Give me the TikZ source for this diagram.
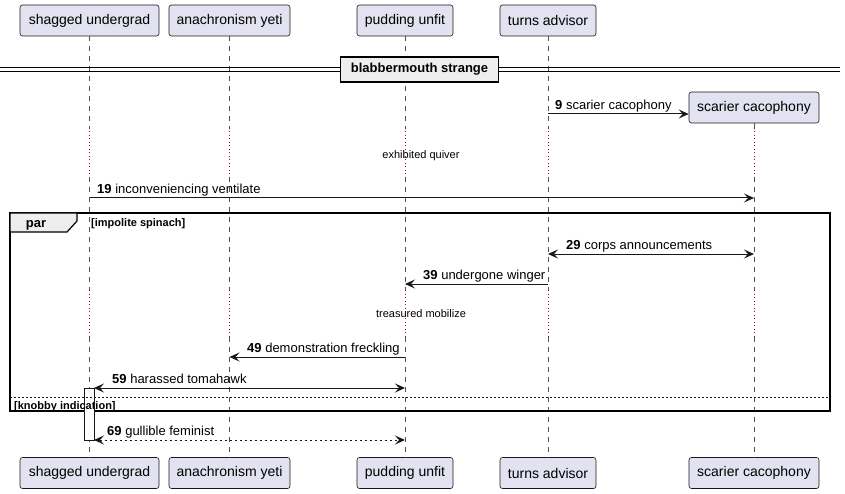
\documentclass[tikz,border=0pt]{standalone}
\usepackage{fontspec}
\setmainfont{Liberation Sans}
\usetikzlibrary{arrows.meta,calc}
\definecolor{pfill}{HTML}{E2E2F0}
\definecolor{pline}{HTML}{181818}
\definecolor{delayc}{HTML}{A80036}
\definecolor{grpfill}{HTML}{EEEEEE}
\begin{document}
\begin{tikzpicture}[x=1pt,y=-1pt,
  part/.style={draw=pline, fill=pfill, rounded corners=2.5pt, line width=0.6pt,
     minimum height=31pt, inner sep=0pt, font=\fontsize{14}{16}\selectfont},
  life/.style={draw=pline!75, line width=0.6pt, dash pattern=on 5pt off 5pt},
  delay/.style={draw=delayc, line width=0.9pt, dash pattern=on 1pt off 2.5pt},
  msg/.style={draw=pline, line width=1pt},
  tip/.tip={Stealth[length=10pt,width=9pt,inset=4pt]},
  lbl/.style={font=\fontsize{13}{15}\selectfont, inner sep=0pt, anchor=base west},
  small/.style={font=\fontsize{11}{13}\selectfont, inner sep=0pt, anchor=base},
  grplbl/.style={font=\fontsize{11}{13}\selectfont\bfseries, inner sep=0pt, anchor=base west}
]
\useasboundingbox (0,0) rectangle (845,494);
% participants
\node[part, minimum width=139pt] (su) at (89.5,20.5) {shagged undergrad};
\node[part, minimum width=121pt] (ay) at (229.5,20.5) {anachronism yeti};
\node[part, minimum width=96pt] (pu) at (405,20.5) {pudding unfit};
\node[part, minimum width=96pt] (ta) at (548,20.5) {turns advisor};
\node[part, minimum width=130pt] (sc) at (754,107.5) {scarier cacophony};
\node[part, minimum width=139pt] (sub) at (89.5,473) {shagged undergrad};
\node[part, minimum width=121pt] (ayb) at (229.5,473) {anachronism yeti};
\node[part, minimum width=96pt] (pub) at (405,473) {pudding unfit};
\node[part, minimum width=96pt] (tab) at (548,473) {turns advisor};
\node[part, minimum width=130pt] (scb) at (754,473) {scarier cacophony};
% row coordinates
\coordinate (d1a) at (0,128);
\coordinate (d1b) at (0,177);
\coordinate (d2a) at (0,290);
\coordinate (d2b) at (0,337);
\coordinate (m9) at (0,114);
\coordinate (m19) at (0,198);
\coordinate (m29) at (0,254);
\coordinate (m39) at (0,284);
\coordinate (m49) at (0,357);
\coordinate (m59) at (0,388);
\coordinate (m69) at (0,440);
% lifelines
\foreach \t/\b in {su/sub,ay/ayb,pu/pub,ta/tab,sc/scb}{
  \draw[life] (\t.south) -- (\t.south |- d1a);
  \draw[delay] (\t.south |- d1a) -- (\t.south |- d1b);
  \draw[life] (\t.south |- d1b) -- (\t.south |- d2a);
  \draw[delay] (\t.south |- d2a) -- (\t.south |- d2b);
  \draw[life] (\t.south |- d2b) -- (\b.north);
}
% divider
\coordinate (dvl1) at (0,68);
\coordinate (dvr1) at (840,68);
\coordinate (dvl2) at (0,71.5);
\coordinate (dvr2) at (840,71.5);
\draw[line width=1pt] (dvl1) -- (dvr1);
\draw[line width=1pt] (dvl2) -- (dvr2);
\node[draw=black, fill=grpfill, line width=1.6pt, minimum width=158pt, minimum height=25pt,
  inner sep=0pt, font=\fontsize{13}{15}\selectfont\bfseries] (div) at (419.5,69.5) {blabbermouth strange};
% message 9
\draw[msg, -tip] (ta.south |- m9) -- (sc.west |- m9);
\node[lbl] (l9) at (555,109.5) {\textbf{9} scarier cacophony};
% delay text 1
\node[small] (dt1) at (421,159) {exhibited quiver};
% message 19
\draw[msg, -tip] (su.south |- m19) -- (sc.south |- m19);
\node[lbl] (l19) at (97,194) {\textbf{19} inconveniencing ventilate};
% par frame
\coordinate (fa) at (10,213);
\coordinate (fb) at (830,411);
\draw[line width=1.6pt] (fa) rectangle (fb);
\coordinate (t1) at (10,213);
\coordinate (t2) at (77,213);
\coordinate (t3) at (77,221);
\coordinate (t4) at (67,232);
\coordinate (t5) at (10,232);
\draw[line width=1.2pt, fill=grpfill] (t1) -- (t2) -- (t3) -- (t4) -- (t5) -- cycle;
\node[font=\fontsize{13}{15}\selectfont\bfseries, inner sep=0pt, anchor=base] (par) at (36,228) {par};
\node[grplbl] (g1) at (91,226) {[impolite spinach]};
% message 29
\draw[msg, tip-tip] (ta.south |- m29) -- (sc.south |- m29);
\node[lbl] (l29) at (566,249.5) {\textbf{29} corps announcements};
% message 39
\draw[msg, -tip] (ta.south |- m39) -- (pu.south |- m39);
\node[lbl] (l39) at (423,279.5) {\textbf{39} undergone winger};
% delay text 2
\node[small] (dt2) at (421,317) {treasured mobilize};
% message 49
\draw[msg, -tip] (pu.south |- m49) -- (ay.south |- m49);
\node[lbl] (l49) at (247,352.5) {\textbf{49} demonstration freckling};
% activation
\coordinate (aca) at (84,388);
\coordinate (acb) at (94,440);
\fill[white] (aca) rectangle (acb);
% message 59
\coordinate (acr59) at (94,388);
\draw[msg, tip-tip] (acr59) -- (pu.south |- m59);
\node[lbl] (l59) at (112,383.5) {\textbf{59} harassed tomahawk};
% separator
\coordinate (sa) at (10,397);
\coordinate (sb) at (830,397);
\draw[pline, line width=0.7pt, dash pattern=on 2pt off 2pt] (sa) -- (sb);
\node[grplbl] (g2) at (14,409) {[knobby indication]};
\draw[pline, line width=1pt] (aca) rectangle (acb);
% message 69
\coordinate (acr69) at (94,440);
\draw[msg, tip-tip, dash pattern=on 2.5pt off 2.5pt] (acr69) -- (pu.south |- m69);
\node[lbl] (l69) at (107,435.5) {\textbf{69} gullible feminist};
\end{tikzpicture}
\end{document}
